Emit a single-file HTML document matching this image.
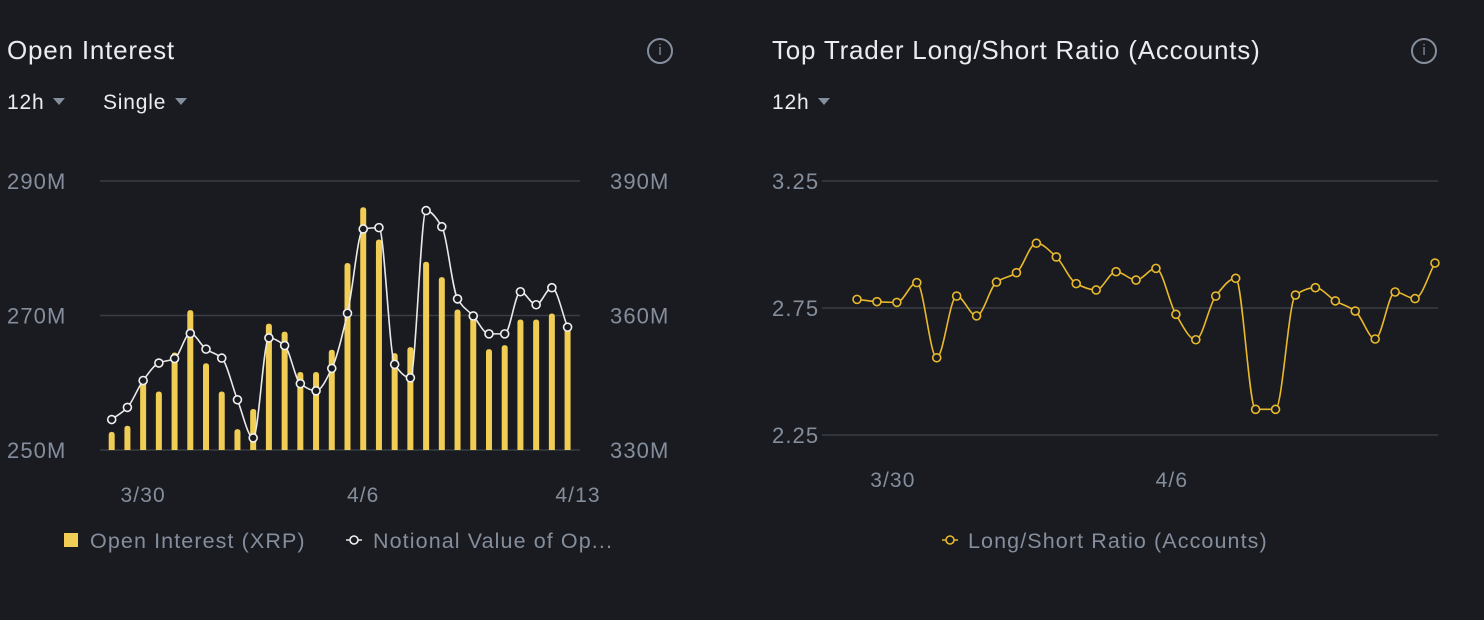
<!DOCTYPE html>
<html><head><meta charset="utf-8"><style>
body{margin:0;width:1484px;height:620px;background:#1a1b20;font-family:"Liberation Sans",sans-serif;overflow:hidden;position:relative;color:#eaecef}
.abs{position:absolute;white-space:nowrap}
.title{font-size:26px;top:35px;letter-spacing:0.8px}
.sel{font-size:21px;top:91px;letter-spacing:0.8px}
.tri{display:inline-block;width:0;height:0;border-left:6px solid transparent;border-right:6px solid transparent;border-top:7px solid #848e9c;margin-left:9px;vertical-align:4px}
.info{width:22px;height:22px;border:2px solid #848e9c;border-radius:50%;color:#848e9c;font-size:15px;text-align:center;line-height:22px;top:38px}
svg text{letter-spacing:1.1px}
</style></head><body>
<div class="abs title" style="left:7px">Open Interest</div>
<div class="abs info" style="left:647px">i</div>
<div class="abs sel" style="left:7px">12h<span class="tri"></span></div>
<div class="abs sel" style="left:103px">Single<span class="tri"></span></div>
<div class="abs title" style="left:772px">Top Trader Long/Short Ratio (Accounts)</div>
<div class="abs info" style="left:1411px">i</div>
<div class="abs sel" style="left:772px">12h<span class="tri"></span></div>
<svg id="svg" width="1484" height="620" style="position:absolute;left:0;top:0"></svg>
<script>
const barVals=[252.7,253.6,260.3,258.7,264.5,270.8,262.9,258.7,253.1,256.1,268.8,267.6,261.6,261.6,264.9,277.8,286.1,281.3,264.4,265.3,278.0,275.7,270.9,270.6,265.0,265.6,269.4,269.4,270.3,268.3];
const notional=[336.8,339.5,345.5,349.4,350.4,356.0,352.5,350.5,341.2,332.7,355.0,353.3,344.8,343.2,348.2,360.5,379.3,379.6,349.1,346.1,383.4,379.8,363.7,359.9,355.9,355.9,365.3,362.4,366.2,357.4];
const ratio=[2.784,2.775,2.772,2.850,2.554,2.797,2.719,2.852,2.889,3.005,2.951,2.846,2.821,2.893,2.860,2.906,2.725,2.625,2.797,2.867,2.351,2.351,2.801,2.830,2.778,2.738,2.628,2.813,2.787,2.927];
const leftTicks=[250,270,290];const leftTickLabels=["250M","270M","290M"];
const rightTicks=[330,360,390];const rightTickLabels=["330M","360M","390M"];
const ratioTicks=[2.25,2.75,3.25];const ratioTickLabels=["2.25","2.75","3.25"];
const xLabelsIdx=[2,16,30];const xLabels=["3/30","4/6","4/13"];
const rxLabelsIdx=[2,16];const rxLabels=["3/30","4/6"];

const NS="http://www.w3.org/2000/svg",svg=document.getElementById('svg');
function el(t,a,txt){const e=document.createElementNS(NS,t);for(const k in a)e.setAttribute(k,a[k]);if(txt!=null)e.textContent=txt;svg.appendChild(e);return e;}
const yLeft=v=>450-(v-250)*(269/40);
const yRight=v=>450-(v-330)*(269/60);
const xLeft=i=>111.7+i*15.72;
const yRat=v=>435-(v-2.25)*254;
const xRat=i=>857+i*19.93;
function monotone(pts){const n=pts.length,d=[],m=[];
for(let i=0;i<n-1;i++)d.push((pts[i+1][1]-pts[i][1])/(pts[i+1][0]-pts[i][0]));
for(let i=0;i<n;i++){if(i==0)m.push(d[0]);else if(i==n-1)m.push(d[n-2]);else m.push(d[i-1]*d[i]<=0?0:2/(1/d[i-1]+1/d[i]));}
let s="M"+pts[0][0]+","+pts[0][1];
for(let i=0;i<n-1;i++){const h=(pts[i+1][0]-pts[i][0])/3;s+=` C${pts[i][0]+h},${pts[i][1]+m[i]*h} ${pts[i+1][0]-h},${pts[i+1][1]-m[i+1]*h} ${pts[i+1][0]},${pts[i+1][1]}`;}
return s;}

leftTicks.forEach((v,i)=>{const g=el('line',{x1:100,x2:580,y1:yLeft(v),y2:yLeft(v),stroke:'#3a3d45','stroke-width':1.5});

const t=el('text',{x:7,y:yLeft(v)+8,fill:'#848e9c','font-size':22},leftTickLabels[i]);
});
rightTicks.forEach((v,i)=>{const t=el('text',{x:610,y:yRight(v)+8,fill:'#848e9c','font-size':22},rightTickLabels[i]);
});
xLabelsIdx.forEach((ix,i)=>{const t=el('text',{x:Math.min(xLeft(ix),578),y:502,fill:'#848e9c','font-size':21,'text-anchor':'middle'},xLabels[i]);
});
barVals.forEach((v,i)=>{const y=yLeft(v);const r=el('path',{d:`M${xLeft(i)-3},450 V${y+3} Q${xLeft(i)-3},${y} ${xLeft(i)},${y} Q${xLeft(i)+3},${y} ${xLeft(i)+3},${y+3} V450 Z`,fill:'#f0cd54'});
});
const np=notional.map((v,i)=>[xLeft(i),yRight(v)]);
const nl=el('path',{d:monotone(np),fill:'none',stroke:'#e8e8e8','stroke-width':1.6});

np.forEach(p=>{const c=el('circle',{cx:p[0],cy:p[1],r:4,fill:'#1a1b20',stroke:'#f0f0f0','stroke-width':1.6});
});
let lg=el('rect',{x:64,y:533,width:14,height:14,fill:'#f0cd54'});
lg=el('text',{x:90,y:548,fill:'#848e9c','font-size':21.5},'Open Interest (XRP)');
lg=el('line',{x1:346,x2:362,y1:540,y2:540,stroke:'#e8e8e8','stroke-width':1.5});
lg=el('circle',{cx:354,cy:540,r:4,fill:'#1a1b20',stroke:'#f0f0f0','stroke-width':1.6});
lg=el('text',{x:373,y:548,fill:'#848e9c','font-size':21.5},'Notional Value of Op...');

ratioTicks.forEach((v,i)=>{const g=el('line',{x1:822,x2:1438,y1:yRat(v),y2:yRat(v),stroke:'#3a3d45','stroke-width':1.5});

const t=el('text',{x:772,y:yRat(v)+8,fill:'#848e9c','font-size':22},ratioTickLabels[i]);
});
rxLabelsIdx.forEach((ix,i)=>{const t=el('text',{x:xRat(ix)-4,y:487,fill:'#848e9c','font-size':21,'text-anchor':'middle'},rxLabels[i]);
});
const rp=ratio.map((v,i)=>[xRat(i),yRat(v)]);
const rl=el('path',{d:monotone(rp),fill:'none',stroke:'#e8b92c','stroke-width':1.6});

rp.forEach(p=>{const c=el('circle',{cx:p[0],cy:p[1],r:4,fill:'#1a1b20',stroke:'#e8b92c','stroke-width':1.6});
});
lg=el('line',{x1:942,x2:958,y1:540,y2:540,stroke:'#e8b92c','stroke-width':1.5});
lg=el('circle',{cx:950,cy:540,r:4,fill:'#1a1b20',stroke:'#e8b92c','stroke-width':1.6});
lg=el('text',{x:968,y:548,fill:'#848e9c','font-size':21.5},'Long/Short Ratio (Accounts)');
</script>
</body></html>
